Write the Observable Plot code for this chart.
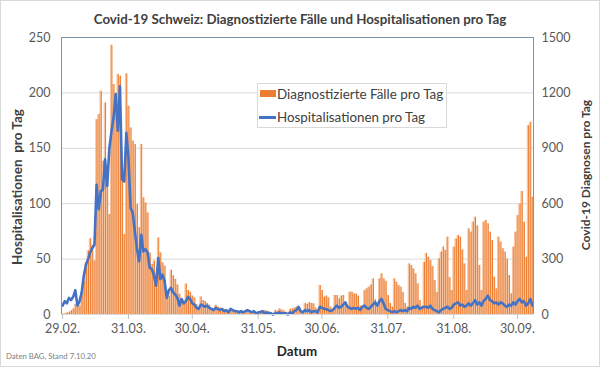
<!DOCTYPE html>
<html><head><meta charset="utf-8">
<script src="https://cdn.jsdelivr.net/npm/d3@7"></script>
<script src="https://cdn.jsdelivr.net/npm/@observablehq/plot@0.6"></script>
<style>
html,body{margin:0;padding:0;background:#fff;}
#chart{position:relative;width:600px;height:367px;overflow:hidden;font-family:Lato,"Open Sans",sans-serif;}
#chart svg{position:absolute;left:0;top:0;}
.frame{position:absolute;left:0;top:0;width:600px;height:367px;box-sizing:border-box;border:1px solid #d9d9d9;pointer-events:none;}
.t{position:absolute;white-space:pre;line-height:1;}
.c{transform:translate(-50%,-50%);}
.r{transform:translate(-50%,-50%) rotate(-90deg);}
.legend{position:absolute;left:257px;top:83px;width:190px;height:45px;box-sizing:border-box;border:1px solid #d9d9d9;background:#fff;}
</style></head>
<body>
<div id="chart">
  <div class="frame"></div>
</div>
<script>
// ---- data ----
const startDate = "2020-02-29";
// Diagnostizierte Fälle pro Tag (right axis), one value per day from 29.02.2020 to 07.10.2020
const cases = [
  2, 4, 8, 12, 20, 30, 55, 40, 45, 110,
  180, 280, 345, 410, 375, 290, 1055, 1083, 1209, 830,
  1146, 713, 541, 1458, 1245, 1191, 1300, 1290, 812, 433,
  1303, 1128, 1010, 939, 920, 595, 470, 920, 632, 604,
  550, 334, 270, 290, 225, 415, 334, 280, 262, 117,
  99, 240, 210, 190, 160, 110, 80, 60, 165, 130,
  120, 100, 90, 55, 35, 95, 75, 70, 60, 50,
  35, 25, 50, 40, 35, 30, 25, 20, 12, 30,
  25, 22, 20, 18, 12, 8, 20, 18, 15, 14,
  16, 10, 8, 18, 20, 22, 18, 16, 10, 6,
  22, 18, 30, 25, 20, 12, 8, 28, 30, 35,
  40, 30, 18, 12, 60, 55, 65, 60, 58, 35,
  25, 157, 130, 94, 100, 90, 40, 25, 103, 103,
  85, 100, 103, 60, 35, 121, 121, 112, 110, 100,
  45, 30, 130, 139, 148, 160, 193, 80, 40, 193,
  220, 193, 180, 103, 60, 40, 193, 175, 157, 148,
  120, 60, 40, 274, 265, 247, 220, 166, 76, 45,
  283, 330, 310, 292, 260, 184, 120, 301, 338, 365,
  347, 419, 200, 130, 365, 410, 428, 419, 350, 274,
  130, 464, 446, 500, 527, 480, 265, 130, 500, 509,
  491, 446, 400, 202, 139, 419, 392, 356, 338, 300,
  211, 112, 365, 446, 536, 599, 666, 500, 310, 1023,
  1041, 635
];
// Hospitalisationen pro Tag (left axis)
const hosp = [
  8, 12, 10, 15, 13, 16, 22, 8, 12, 20,
  35, 45, 50, 56, 60, 63, 117, 95, 111, 113,
  140, 116, 150, 165, 178, 199, 166, 206, 122, 120,
  164, 141, 96, 92, 75, 59, 48, 72, 57, 59,
  56, 42, 41, 35, 26, 51, 32, 36, 30, 15,
  22, 24, 20, 18, 15, 8, 14, 10, 12, 16,
  14, 10, 9, 6, 5, 9, 8, 7, 8, 6,
  5, 4, 6, 5, 4, 5, 3, 4, 2, 5,
  4, 3, 3, 2, 3, 2, 3, 4, 3, 2,
  3, 1, 2, 2, 3, 1, 2, 1, 1, 0,
  1, 1, 2, 1, 1, 1, 0, 2, 1, 3,
  4, 7, 3, 2, 4, 3, 4, 2, 3, 3,
  2, 7, 6, 5, 5, 4, 3, 4, 6, 8,
  6, 7, 9, 11, 7, 6, 5, 6, 5, 6,
  4, 7, 8, 6, 5, 7, 9, 11, 8, 12,
  14, 10, 5, 4, 3, 2, 3, 2, 3, 4,
  3, 4, 3, 6, 5, 7, 6, 8, 5, 6,
  7, 7, 6, 8, 5, 4, 3, 2, 4, 5,
  6, 7, 5, 6, 9, 10, 11, 8, 9, 7,
  8, 10, 8, 10, 13, 9, 11, 8, 12, 14,
  17, 13, 12, 10, 11, 9, 11, 10, 8, 7,
  9, 8, 11, 9, 12, 14, 11, 12, 8, 10,
  14, 8
];
const xTickDates = ["2020-02-29","2020-03-31","2020-04-30","2020-05-31","2020-06-30","2020-07-31","2020-08-31","2020-09-30"];
const xTickLabels = ["29.02.","31.03.","30.04.","31.05.","30.06.","31.07.","31.08.","30.09."];
const leftTicks = [0, 50, 100, 150, 200, 250];
const rightTicks = [0, 300, 600, 900, 1200, 1500];
const title = "Covid-19 Schweiz: Diagnostizierte Fälle und Hospitalisationen pro Tag";
const yLeftTitle = "Hospitalisationen  pro Tag";
const yRightTitle = "Covid-19 Diagnosen pro Tag";
const xTitle = "Datum";
const caption = "Daten BAG, Stand 7.10.20";
const legendCases = "Diagnostizierte Fälle pro Tag";
const legendHosp = "Hospitalisationen pro Tag";

// ---- build ----
const DAY = 864e5;
const t0 = Date.parse(startDate + "T00:00:00Z");
const RATIO = rightTicks[rightTicks.length-1] / leftTicks[leftTicks.length-1];
const rows = cases.map((c, i) => ({
  start: new Date(t0 + i*DAY),
  end: new Date(t0 + (i+1)*DAY),
  mid: new Date(t0 + i*DAY + DAY/2),
  edge: new Date(t0 + i*DAY + 0.72*DAY),
  cases: c,
  hosp: hosp[i]
}));
const xStart = new Date(t0), xEnd = new Date(t0 + cases.length*DAY);
const tickDates = xTickDates.map(s => new Date(Date.parse(s + "T12:00:00Z")));
const BLUE = "#4472C4", ORANGE = "#ED7D31";

const svg = Plot.plot({
  width: 600, height: 367,
  marginLeft: 61, marginRight: 67, marginTop: 37, marginBottom: 53,
  style: {fontFamily: "Lato, 'Open Sans', sans-serif", fontSize: "12px", background: "transparent", color: "#595959"},
  x: {type: "utc", domain: [xStart, xEnd]},
  y: {domain: [0, 250]},
  marks: [
    Plot.ruleY(leftTicks.slice(1, -1), {stroke: "#d9d9d9", strokeWidth: 1}),
    Plot.rectY(rows, {x1: "start", x2: "end", y: d => d.cases / RATIO, fill: "#F6C4A0", insetLeft: 0.15, insetRight: 0.15}),
    Plot.ruleX(rows, {x: "edge", y1: 0, y2: d => d.cases / RATIO, stroke: "#EC7A2C", strokeWidth: 1}),
    Plot.line(rows, {x: "mid", y: "hosp", stroke: BLUE, strokeWidth: 2.6, strokeLinejoin: "round", strokeLinecap: "round"}),
    Plot.ruleY([0], {stroke: "#d9d9d9"}),
    Plot.ruleY([250], {stroke: "#7b95a6", strokeWidth: 1}),
    Plot.ruleX([xStart, xEnd], {stroke: "#7b95a6", strokeWidth: 1}),
    Plot.axisY({anchor: "left", ticks: leftTicks, tickSize: 0, tickPadding: 11, label: null, fill: "#595959", fontSize: 12.5}),
    Plot.axisY({anchor: "right", ticks: rightTicks.map(v => v / RATIO), tickFormat: d => String(rightTicks[leftTicks.indexOf(Math.round(d))]), tickSize: 0, tickPadding: 8, label: null, fill: "#595959", fontSize: 12.5}),
    Plot.axisX({ticks: tickDates, tickFormat: d => xTickLabels[tickDates.findIndex(t => +t === +d)], tickSize: 5, tickPadding: 5, stroke: "#bfbfbf", fill: "#595959", label: null, fontSize: 12.5})
  ]
});
const chart = document.getElementById("chart");
chart.insertBefore(svg, chart.firstChild);

function addText(txt, cls, x, y, opts) {
  const el = document.createElement("div");
  el.className = "t " + cls;
  el.textContent = txt;
  el.style.left = x + "px";
  el.style.top = y + "px";
  el.style.fontSize = opts.size + "px";
  el.style.fontWeight = opts.bold ? "700" : "400";
  el.style.color = opts.color || "#595959";
  chart.appendChild(el);
  if (opts.width) {
    const w = el.offsetWidth;
    if (w > 0) el.style.fontSize = (opts.size * opts.width / w) + "px";
  }
  return el;
}
addText(title, "c", 300, 20, {size: 14, bold: true, width: 413, color: "#404040"});
addText(yLeftTitle, "r", 18, 187, {size: 12, bold: true, width: 156, color: "#404040"});
addText(yRightTitle, "r", 586, 175, {size: 12, bold: true, width: 150, color: "#404040"});
addText(xTitle, "c", 297, 352, {size: 14, bold: true, width: 40, color: "#262626"});
const cap = addText(caption, "", 6, 353, {size: 9, width: 90, color: "#7f7f7f"});

const lg = document.createElement("div");
lg.className = "legend";
chart.appendChild(lg);
const sw1 = document.createElement("div");
Object.assign(sw1.style, {position: "absolute", left: "260px", top: "90px", width: "16px", height: "7px", background: ORANGE});
chart.appendChild(sw1);
const sw2 = document.createElement("div");
Object.assign(sw2.style, {position: "absolute", left: "259px", top: "116px", width: "17px", height: "2.6px", background: BLUE});
chart.appendChild(sw2);
const l1 = addText(legendCases, "", 277, 0, {size: 13, width: 166, color: "#404040"});
l1.style.top = (94 - l1.offsetHeight/2) + "px";
const l2 = addText(legendHosp, "", 277, 0, {size: 13, width: 148, color: "#404040"});
l2.style.top = (117 - l2.offsetHeight/2) + "px";
</script>
</body></html>
